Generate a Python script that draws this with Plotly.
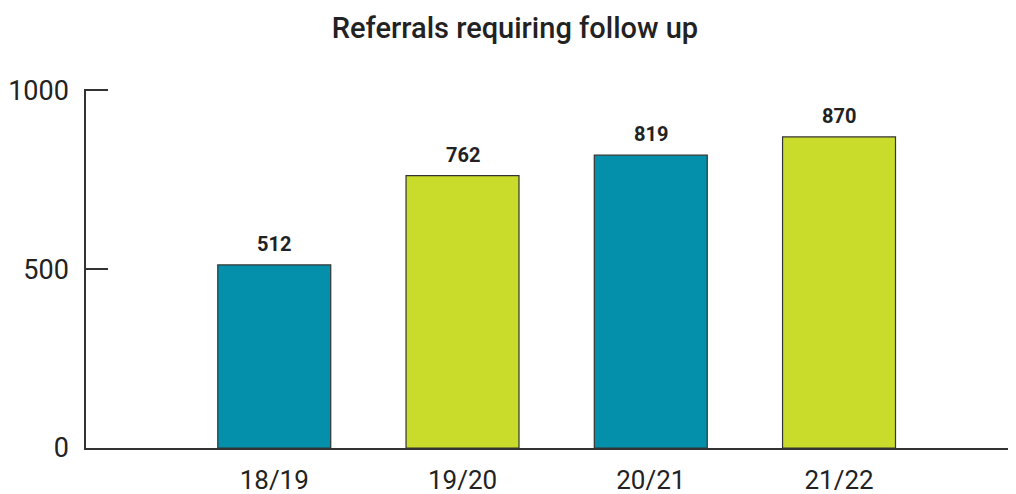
import plotly.graph_objects as go

categories = ["18/19", "19/20", "20/21", "21/22"]
values = [512, 762, 819, 870]
bar_colors = ["#0490ab", "#cadc2b", "#0490ab", "#cadc2b"]
y_ticks = [0, 500, 1000]
title_text = "Referrals requiring follow up"

fig = go.Figure()
fig.add_trace(go.Bar(
    x=categories, y=values, width=0.6,
    marker=dict(color=bar_colors, line=dict(color="#333333", width=1.2)),
    hoverinfo="skip", showlegend=False,
))
for c, v in zip(categories, values):
    fig.add_annotation(x=c, y=v, text=f"<b>{v}</b>", showarrow=False,
                       yanchor="bottom", yshift=7,
                       font=dict(family="Roboto", size=20, color="#222222"))

# the page body has an 8px default margin, so margins compensate for it
fig.update_layout(
    width=1016, height=494,
    margin=dict(l=78, r=8, t=81, b=54, autoexpand=False),
    paper_bgcolor="white", plot_bgcolor="white",
    title=dict(text=title_text, x=0.499, xanchor="center", y=1 - 20 / 494, yanchor="middle",
               font=dict(family="Roboto", size=29, color="#222222", weight=500),
               automargin=False),
    bargap=0.4,
)
fig.update_xaxes(
    type="category", range=[-1, 3.94], automargin=False,
    showline=True, linecolor="#333333", linewidth=1.5,
    ticks="", showgrid=False, zeroline=False,
    tickfont=dict(family="Roboto", size=26, color="#222222"),
    ticklabelstandoff=8,
)
fig.update_yaxes(
    range=[0, 1004], tickvals=y_ticks, automargin=False,
    showline=True, linecolor="#333333", linewidth=1.5,
    ticks="inside", ticklen=22, tickwidth=1.5, tickcolor="#333333",
    showgrid=False, zeroline=False,
    tickfont=dict(family="Roboto", size=27, color="#222222"),
    ticklabelstandoff=10,
)
fig.write_html("out.html")
